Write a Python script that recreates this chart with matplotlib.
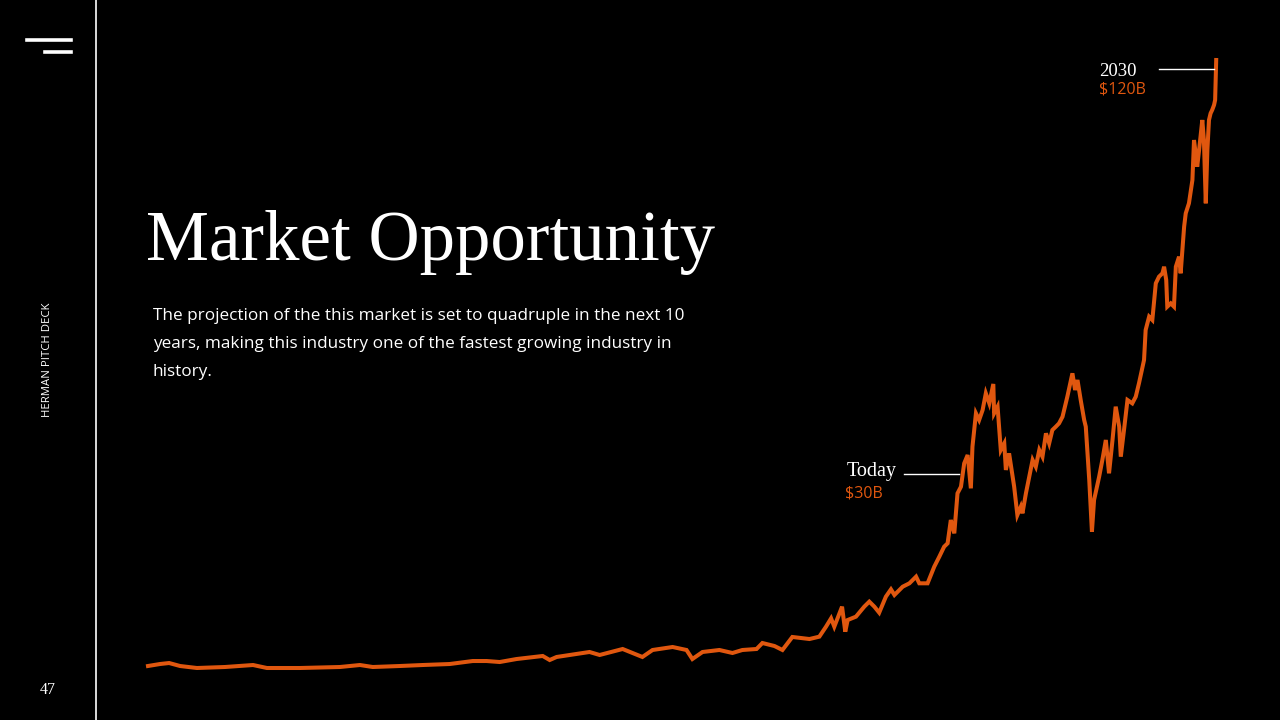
import matplotlib
matplotlib.use("Agg")
import matplotlib.pyplot as plt
from matplotlib.lines import Line2D

# market curve (year, index value)
years = [1990.00, 1990.45, 1990.79, 1991.20, 1991.83, 1992.88, 1993.93, 1994.45,
         1995.68, 1997.18, 1997.93, 1998.41, 1999.42, 2000.28, 2001.29, 2002.15,
         2002.67, 2003.16, 2003.79, 2004.77, 2005.03, 2005.29, 2006.52, 2006.90,
         2007.76, 2008.50, 2008.88, 2009.63, 2010.15, 2010.37, 2010.75, 2011.38,
         2011.87, 2012.24, 2012.77, 2012.99, 2013.44, 2013.74, 2014.11, 2014.75,
         2015.12, 2015.37, 2015.56, 2015.68, 2015.97, 2016.09, 2016.18, 2016.49,
         2016.80, 2016.99, 2017.18, 2017.36, 2017.61, 2017.80, 2017.93, 2018.24,
         2018.49, 2018.74, 2018.86, 2019.17, 2019.42, 2019.61, 2019.79, 2019.92,
         2020.04, 2020.17, 2020.29, 2020.42, 2020.54, 2020.67, 2020.79, 2020.85,
         2020.98, 2021.10, 2021.23, 2021.35, 2021.48, 2021.63, 2021.66, 2021.79,
         2021.91, 2022.04, 2022.10, 2022.22, 2022.41, 2022.53, 2022.66, 2022.72,
         2022.85, 2023.10, 2023.22, 2023.35, 2023.47, 2023.60, 2023.72, 2023.84,
         2023.97, 2024.09, 2024.22, 2024.40, 2024.59, 2024.69, 2024.78, 2024.90,
         2025.03, 2025.09, 2025.22, 2025.32, 2025.40, 2025.59, 2025.71, 2025.84,
         2025.96, 2026.09, 2026.21, 2026.34, 2026.40, 2026.52, 2026.65, 2026.83,
         2026.96, 2027.08, 2027.27, 2027.33, 2027.46, 2027.58, 2027.71, 2027.83,
         2027.96, 2028.02, 2028.10, 2028.14, 2028.27, 2028.39, 2028.46, 2028.58,
         2028.64, 2028.77, 2028.83, 2028.95, 2029.08, 2029.14, 2029.20, 2029.26,
         2029.33, 2029.45, 2029.51, 2029.58, 2029.64, 2029.70, 2029.76, 2029.82,
         2029.89, 2029.93, 2029.97]
values = [4.57, 4.95, 5.14, 4.57, 4.19, 4.38, 4.76, 4.19,
          4.19, 4.38, 4.76, 4.38, 4.57, 4.76, 4.95, 5.52,
          5.52, 5.33, 5.90, 6.48, 5.71, 6.29, 7.24, 6.67,
          7.81, 6.29, 7.62, 8.19, 7.62, 5.90, 7.24, 7.62,
          7.05, 7.62, 7.81, 8.95, 8.38, 7.62, 10.10, 9.71,
          10.16, 12.06, 13.65, 12.06, 15.87, 11.11, 13.33, 13.97,
          15.87, 16.83, 15.87, 14.73, 17.78, 19.17, 18.10, 19.68,
          20.32, 21.59, 20.32, 20.32, 23.49, 25.40, 27.30, 27.94,
          32.38, 29.84, 37.46, 38.73, 43.17, 44.76, 38.41, 46.35,
          52.70, 51.43, 53.33, 56.51, 54.60, 58.29, 52.70, 53.97,
          45.71, 46.98, 41.91, 45.08, 38.73, 33.33, 34.92, 33.65,
          37.46, 43.81, 42.54, 45.71, 44.44, 48.89, 46.98, 49.52,
          50.16, 50.79, 52.06, 55.87, 60.32, 57.14, 59.05, 55.24,
          51.43, 50.16, 40.00, 30.16, 36.19, 40.63, 43.81, 47.62,
          41.27, 47.62, 53.97, 50.16, 44.44, 49.52, 55.24, 54.60,
          55.87, 58.41, 62.86, 68.57, 71.11, 70.48, 77.46, 78.73,
          79.37, 80.63, 78.10, 73.02, 73.65, 73.02, 80.63, 82.54,
          79.37, 88.25, 90.79, 92.70, 97.14, 104.76, 102.22, 99.68,
          102.86, 108.57, 104.76, 92.70, 102.86, 108.57, 109.84, 110.48,
          111.43, 112.38, 120.00]

today_label, today_amount = "Today", "$30B"
end_label, end_amount = "2030", "$120B"

title = "Market Opportunity"
body = ("The projection of the this market is set to quadruple in the next 10\n"
        "years, making this industry one of the fastest growing industry in\n"
        "history.")
side_label = "HERMAN PITCH DECK"
page_no = "47"

ORANGE = "#E0570F"
serif = ["Liberation Serif", "DejaVu Serif"]
sans = ["Open Sans", "DejaVu Sans"]

fig = plt.figure(figsize=(12.8, 7.2), dpi=100, facecolor="black")

# chart area (no visible axes)
ax = fig.add_axes([148 / 1280, 30 / 720, 1069 / 1280, 630 / 720])
ax.set_facecolor("black")
ax.plot(years, values, color=ORANGE, lw=2.9, solid_joinstyle="miter", clip_on=False)
ax.set_xlim(1990, 2030)
ax.set_ylim(0, 120)
ax.axis("off")

# callouts
ax.plot([2018.29, 2020.35], [41.1, 41.1], color="white", lw=1)
ax.text(2018.0, 41.6, today_label, color="white", fontsize=14.5,
        family=serif, ha="right", va="center")
ax.text(2016.09, 37.5, today_amount, color=ORANGE, fontsize=11.5,
        family=sans, ha="left", va="center")

ax.plot([2027.83, 2029.89], [118.3, 118.3], color="white", lw=1, clip_on=False)
ax.text(2025.59, 117.9, end_label, color="white", fontsize=13.5,
        family=serif, ha="left", va="center")
ax.text(2025.59, 114.3, end_amount, color=ORANGE, fontsize=11.5,
        family=sans, ha="left", va="center")

# slide furniture
fig.add_artist(Line2D([96 / 1280, 96 / 1280], [0, 1], color="white", lw=1.2))
fig.add_artist(Line2D([27 / 1280, 71 / 1280], [680 / 720, 680 / 720], color="white", lw=2.6))
fig.add_artist(Line2D([45 / 1280, 71 / 1280], [668 / 720, 668 / 720], color="white", lw=2.6))
fig.text(48 / 1280, 360 / 720, side_label, color="white", fontsize=8.2, family=sans,
         rotation=90, ha="center", va="center")
fig.text(48 / 1280, 30 / 720, page_no, color="white", fontsize=11.5, family=serif,
         ha="center", va="center")

fig.text(146 / 1280, 460 / 720, title, color="white", fontsize=51, family=serif,
         ha="left", va="baseline")
fig.text(153 / 1280, 412 / 720, body, color="white", fontsize=12.3, family=sans,
         ha="left", va="top", linespacing=2.0)

fig.savefig("out.png", dpi=100, facecolor="black")
